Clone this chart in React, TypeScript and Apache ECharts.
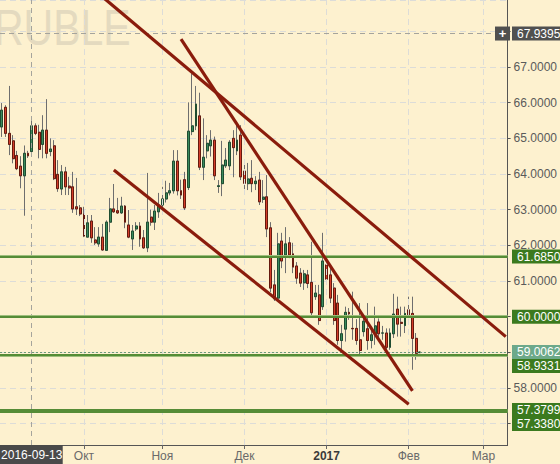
import { useEffect, useRef } from 'react';
import * as echarts from 'echarts';

// Trading days (weekdays) per month
const SEP_2016 = [1, 2, 5, 6, 7, 8, 9, 12, 13, 14, 15, 16, 19, 20, 21, 22, 23, 26, 27, 28, 29, 30];
const OCT_2016 = [3, 4, 5, 6, 7, 10, 11, 12, 13, 14, 17, 18, 19, 20, 21, 24, 25, 26, 27, 28, 31];
const NOV_2016 = [1, 2, 3, 4, 7, 8, 9, 10, 11, 14, 15, 16, 17, 18, 21, 22, 23, 24, 25, 28, 29, 30];
const DEC_2016 = [1, 2, 5, 6, 7, 8, 9, 12, 13, 14, 15, 16, 19, 20, 21, 22, 23, 26, 27, 28, 29, 30];
const JAN_2017 = [2, 3, 4, 5, 6, 9, 10, 11, 12, 13, 16, 17, 18, 19, 20, 23, 24, 25, 26, 27, 30, 31];
const FEB_2017 = [1, 2, 3, 6, 7, 8, 9, 10, 13, 14, 15, 16, 17, 20, 21, 22, 23, 24, 27, 28];
const MAR_2017 = [1, 2, 3, 6, 7, 8, 9];

const MONTHS: [string, number[]][] = [
  ['2016-09', SEP_2016], ['2016-10', OCT_2016], ['2016-11', NOV_2016], ['2016-12', DEC_2016],
  ['2017-01', JAN_2017], ['2017-02', FEB_2017], ['2017-03', MAR_2017],
];
const CATEGORIES: string[] = MONTHS.flatMap(([m, days]) => days.map((d) => `${m}-${String(d).padStart(2, '0')}`));

const MONTH_LABELS: Record<string, string> = {
  '2016-10-03': 'Окт', '2016-11-01': 'Ноя', '2016-12-01': 'Дек',
  '2017-01-02': '2017', '2017-02-01': 'Фев', '2017-03-01': 'Мар',
};

const OPEN = [
  65.32, 65.87, 65.14, 64.93, 64.52, 64.22, 63.95, 64.58, 64.63, 65.35,
  65.17, 64.83, 65.23, 64.63, 64.79, 63.99, 63.58, 64.06, 63.66, 63.64,
  63.08, 63.05, 62.88, 62.23, 62.68, 62.15, 62.04, 62.23, 61.86, 62.65,
  63.02, 62.97, 62.91, 63.10, 62.57, 62.18, 62.46, 62.54, 62.21, 61.93,
  62.79, 62.65, 62.94, 63.13, 63.30, 63.47, 63.53, 64.36, 63.53, 63.84,
  63.62, 65.19, 65.35, 65.63, 64.19, 64.65, 64.79, 64.95, 63.65, 63.73,
  64.23, 64.23, 65.00, 64.65, 65.09, 64.08, 63.73, 63.88, 63.73, 63.83,
  63.29, 63.36, 62.49, 60.89, 60.52, 62.12, 61.73, 62.07, 61.76, 61.42,
  61.22, 60.95, 61.17, 60.96, 60.56, 60.61, 60.28, 61.45, 61.17, 60.80,
  60.38, 59.33, 59.65, 60.12, 59.67, 59.67, 59.35, 59.58, 59.66, 59.33,
  59.52, 59.85, 59.54, 59.54, 59.14, 59.52, 60.21, 59.84, 59.75, 60.19,
  60.09, 59.39, 58.99,
];
const CLOSE = [
  65.79, 65.14, 64.83, 64.43, 64.15, 63.95, 64.58, 64.51, 65.35, 65.14,
  64.69, 65.23, 64.58, 64.70, 63.87, 63.59, 64.06, 63.64, 63.61, 63.02,
  63.02, 62.88, 62.26, 62.63, 62.21, 62.07, 62.23, 61.87, 62.65, 63.02,
  62.94, 62.91, 63.10, 62.65, 62.23, 62.40, 62.54, 62.18, 61.93, 62.65,
  62.65, 62.96, 63.13, 63.30, 63.47, 63.53, 64.36, 63.53, 63.41, 63.05,
  65.20, 65.35, 65.96, 64.19, 64.47, 64.86, 64.95, 63.95, 63.67, 64.25,
  64.39, 64.89, 64.74, 64.95, 63.92, 63.74, 63.86, 63.73, 63.80, 63.22,
  63.35, 62.46, 60.80, 60.50, 62.04, 61.56, 62.04, 61.73, 61.39, 61.08,
  60.94, 61.20, 60.93, 60.11, 60.66, 59.89, 61.56, 61.05, 60.52, 59.89,
  59.33, 59.52, 60.12, 60.08, 59.66, 59.33, 59.05, 59.87, 59.33, 59.49,
  59.74, 59.52, 59.54, 59.14, 59.54, 60.07, 59.79, 59.81, 60.09, 60.05,
  59.39, 58.97, 59.0062,
];
const LOW = [
  65.04, 65.04, 64.53, 64.30, 64.11, 63.60, 62.83, 64.45, 64.53, 65.09,
  64.44, 64.44, 64.44, 64.50, 63.83, 63.50, 63.41, 63.41, 63.41, 62.91,
  62.85, 62.82, 62.23, 62.23, 62.07, 62.01, 61.96, 61.85, 61.85, 62.37,
  62.91, 62.88, 62.88, 62.48, 62.20, 61.87, 62.40, 61.96, 61.90, 61.81,
  62.55, 62.43, 62.77, 62.85, 63.20, 63.40, 63.45, 63.40, 63.30, 62.99,
  63.55, 65.09, 65.23, 64.11, 63.83, 64.44, 64.49, 63.83, 63.47, 63.38,
  64.17, 64.11, 63.91, 64.53, 63.83, 63.55, 63.55, 63.49, 63.55, 63.13,
  63.19, 62.23, 60.69, 60.44, 60.47, 61.36, 61.22, 61.64, 61.22, 60.92,
  60.83, 60.75, 60.80, 60.02, 60.47, 59.77, 60.19, 60.97, 60.38, 59.77,
  59.21, 59.07, 59.30, 59.91, 59.35, 59.21, 58.93, 59.44, 59.07, 59.11,
  59.21, 59.35, 59.35, 59.01, 59.07, 59.40, 59.44, 59.44, 59.54, 59.96,
  58.51, 58.79, 58.98,
];
const HIGH = [
  65.99, 65.93, 66.47, 65.09, 64.65, 64.50, 64.80, 64.65, 65.56, 65.42,
  65.38, 65.65, 66.10, 65.00, 64.95, 64.39, 64.25, 64.20, 63.92, 64.06,
  63.89, 63.13, 63.08, 62.85, 62.85, 62.51, 62.51, 62.60, 62.70, 63.33,
  63.72, 63.33, 63.36, 63.13, 62.99, 62.57, 62.65, 62.65, 62.43, 64.03,
  63.00, 63.13, 63.47, 63.64, 63.81, 63.75, 64.67, 64.67, 63.84, 64.06,
  66.01, 66.82, 66.47, 66.28, 65.56, 65.09, 65.23, 65.05, 63.83, 64.93,
  64.73, 64.95, 65.23, 65.47, 65.37, 64.33, 64.31, 64.39, 63.94, 64.06,
  63.83, 63.97, 62.65, 61.31, 62.35, 62.35, 62.51, 62.23, 62.07, 61.53,
  61.36, 61.31, 61.31, 62.10, 60.89, 60.89, 62.35, 61.67, 61.39, 60.94,
  60.61, 59.77, 60.28, 60.24, 60.70, 59.93, 60.38, 60.00, 60.38, 59.72,
  60.28, 59.95, 59.74, 59.67, 59.67, 60.64, 60.56, 60.28, 60.28, 60.56,
  60.56, 59.54, 59.02,
];

const CURSOR_DATE = '2016-09-13';
const CURSOR_PRICE = 67.9395;
const LAST_PRICE = 59.0062;
const LEVELS = [61.685, 60.0, 58.9331, 57.3799, 57.338];
// axis tick values that sit under a price box in the reference
const HIDDEN_TICKS = [68, 60, 59, 57];

// trend lines: [start category, start value], [end category, end value]
const TREND_A: [string, number][] = [['2016-10-06', 69.14], ['2017-03-09', 59.44]];
const TREND_B: [string, number][] = [['2016-11-08', 67.78], ['2017-02-02', 57.92]];
const TREND_C: [string, number][] = [['2016-10-13', 64.11], ['2017-02-01', 57.54]];

const FONT = '"Liberation Sans", Arial, sans-serif';
const BG = '#fdf1cf';
const GREEN_BOX = '#3b7a1e';
const TREND_COLOR = '#8a1c0c';

export default function App() {
  const ref = useRef<HTMLDivElement>(null);

  useEffect(() => {
    const el = ref.current!;
    const chart = echarts.init(el, undefined, { renderer: 'svg' });

    const candleFull = OPEN.map((o, i) => [o, CLOSE[i], LOW[i], HIGH[i]]);
    const candleBody = OPEN.map((o, i) => [o, CLOSE[i], Math.min(o, CLOSE[i]), Math.max(o, CLOSE[i])]);

    const levelLines: any[] = [];
    LEVELS.forEach((v) => {
      levelLines.push({ yAxis: v, lineStyle: { color: '#9fbf7c', width: 3, type: 'solid' } });
    });
    LEVELS.forEach((v) => {
      levelLines.push({ yAxis: v, lineStyle: { color: '#3d7b1f', width: 1.5, type: 'solid' } });
    });
    levelLines.push({ yAxis: LAST_PRICE, lineStyle: { color: '#6f9a78', width: 1, type: [2, 2] } });

    const trend = (d: [string, number][]) => ({
      type: 'line', data: d, symbol: 'none', z: 6, silent: true, clip: true,
      lineStyle: { color: TREND_COLOR, width: 3.2 },
    });

    chart.setOption({
      animation: false,
      backgroundColor: BG,
      textStyle: { fontFamily: FONT },
      grid: { left: 0, right: 49, top: 0, bottom: 19 },
      xAxis: {
        type: 'category',
        data: CATEGORIES,
        boundaryGap: true,
        axisLine: { show: true, lineStyle: { color: '#555', width: 1 } },
        axisTick: {
          show: true, alignWithLabel: true, length: 4,
          interval: (_i: number, v: string) => v in MONTH_LABELS,
          lineStyle: { color: '#666' },
        },
        axisLabel: {
          interval: (_i: number, v: string) => v in MONTH_LABELS,
          formatter: (v: string) => (MONTH_LABELS[v] === '2017' ? '{b|2017}' : MONTH_LABELS[v] || ''),
          color: '#6a6a6a', fontSize: 12, margin: 5, fontFamily: FONT,
          rich: { b: { fontWeight: 'bold', color: '#3a3a3a', fontSize: 12, fontFamily: FONT } },
        },
        splitLine: { show: false },
      },
      yAxis: {
        type: 'value',
        position: 'right',
        min: 56.4,
        max: 68.88,
        splitNumber: 12,
        minInterval: 1,
        maxInterval: 1,
        axisLine: { show: true, lineStyle: { color: '#555', width: 1 } },
        axisTick: { show: true, length: 3, lineStyle: { color: '#555' } },
        axisLabel: {
          formatter: (v: number) => (HIDDEN_TICKS.some((h) => Math.abs(h - v) < 1e-6) ? '' : v.toFixed(4)),
          color: '#5a5a5a', fontSize: 12, margin: 6, fontFamily: FONT,
          showMinLabel: false, showMaxLabel: false,
        },
        splitLine: { show: true, lineStyle: { type: [6, 4], color: '#dcdcd8', width: 1 } },
      },
      series: [
        {
          type: 'line', data: [], z: 1, silent: true,
          markLine: {
            silent: true, symbol: 'none', label: { show: false }, animation: false,
            data: [
              ...Object.keys(MONTH_LABELS).map((d) => ({ xAxis: d, lineStyle: { type: [6, 4], color: '#dcdcd8', width: 1 } })),
              { xAxis: CURSOR_DATE, lineStyle: { type: [5, 4], color: '#a5a49c', width: 1 } },
              { yAxis: CURSOR_PRICE, lineStyle: { type: [5, 4], color: '#a5a49c', width: 1 } },
            ],
          },
        },
        {
          type: 'candlestick', data: candleFull, z: 2, barWidth: 2.4, silent: true,
          itemStyle: {
            color: 'transparent', color0: 'transparent',
            borderColor: '#6e6e6e', borderColor0: '#6e6e6e', borderWidth: 1,
          },
        },
        {
          type: 'candlestick', data: candleBody, z: 3, barWidth: 2.4, silent: true,
          itemStyle: {
            color: '#3a8a5c', color0: '#d43d29',
            borderColor: '#1f4d31', borderColor0: '#651a0e', borderWidth: 1,
          },
        },
        {
          type: 'line', data: [], z: 4, silent: true,
          markLine: { silent: true, symbol: 'none', label: { show: false }, animation: false, data: levelLines },
        },
        trend(TREND_A),
        trend(TREND_B),
        trend(TREND_C),
      ],
    });

    const py = (v: number) => chart.convertToPixel({ yAxisIndex: 0 }, v) as number;
    const px = (c: string) => chart.convertToPixel({ xAxisIndex: 0 }, c) as number;

    const H = 14;
    const boxes: { v: number; color: string }[] = [
      { v: 61.685, color: GREEN_BOX },
      { v: 60.0, color: GREEN_BOX },
      { v: LAST_PRICE, color: '#6da98a' },
      { v: 58.9331, color: GREEN_BOX },
      { v: 57.3799, color: GREEN_BOX },
      { v: 57.338, color: GREEN_BOX },
    ];
    let prev = -Infinity;
    const graphics: any[] = [
      {
        type: 'text', x: -6, y: 28, scaleX: 0.82, silent: true, z: 0,
        style: {
          text: 'RUBLE', font: `50px ${FONT}`, fill: '#e4dabf',
          align: 'left', verticalAlign: 'middle', textAlign: 'left', textVerticalAlign: 'middle',
        },
      },
    ];
    const addBox = (cy: number, label: string, color: string) => {
      graphics.push({
        type: 'group', silent: true, z: 100,
        children: [
          { type: 'rect', z: 100, shape: { x: 512, y: cy - H / 2, width: 48, height: H }, style: { fill: color } },
          {
            type: 'text', z: 101, x: 517, y: cy,
            style: {
              text: label, font: `12px ${FONT}`, fill: '#ffffff',
              align: 'left', verticalAlign: 'middle', textAlign: 'left', textVerticalAlign: 'middle',
            },
          },
        ],
      });
    };
    boxes.forEach((b) => {
      let cy = py(b.v);
      if (cy < prev + H) cy = prev + H;
      prev = cy;
      addBox(cy, b.v.toFixed(4), b.color);
    });
    const cyTop = py(CURSOR_PRICE);
    addBox(cyTop, CURSOR_PRICE.toFixed(4), '#505050');
    graphics.push({
      type: 'group', silent: true, z: 100,
      children: [
        { type: 'rect', z: 100, shape: { x: 495, y: cyTop - H / 2, width: 15, height: H }, style: { fill: '#505050' } },
        {
          type: 'text', z: 101, x: 502.5, y: cyTop,
          style: {
            text: '+', font: `bold 13px ${FONT}`, fill: '#ffffff',
            align: 'center', verticalAlign: 'middle', textAlign: 'center', textVerticalAlign: 'middle',
          },
        },
      ],
    });
    const cx = px(CURSOR_DATE);
    graphics.push({
      type: 'group', silent: true, z: 100,
      children: [
        { type: 'rect', z: 100, shape: { x: cx - 32, y: 445, width: 63, height: 19 }, style: { fill: '#4a4a4a' } },
        {
          type: 'text', z: 101, x: cx, y: 455,
          style: {
            text: CURSOR_DATE, font: `12px ${FONT}`, fill: '#ffffff',
            align: 'center', verticalAlign: 'middle', textAlign: 'center', textVerticalAlign: 'middle',
          },
        },
      ],
    });

    chart.setOption({ graphic: graphics });

    return () => chart.dispose();
  }, []);

  return (
    <div
      ref={ref}
      style={{ position: 'absolute', left: 0, top: 0, width: 560, height: 464, background: BG }}
    />
  );
}
